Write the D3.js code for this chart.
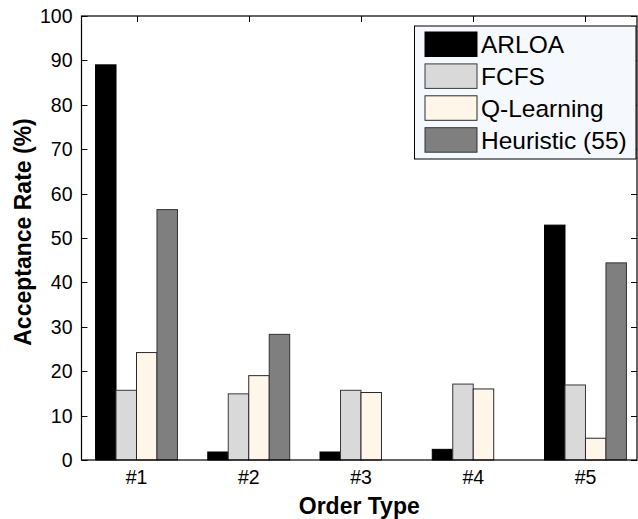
<!DOCTYPE html>
<html>
<head>
<meta charset="utf-8">
<script src="https://cdn.jsdelivr.net/npm/d3@7"></script>
<style>
  html, body { margin: 0; padding: 0; background: #fff; }
  svg { display: block; font-family: Arial, "Liberation Sans", Helvetica, sans-serif; }
</style>
</head>
<body>
<svg id="chart" width="638" height="519"></svg>
<script>
// Order types on the x axis
const categories = ["#1", "#2", "#3", "#4", "#5"];

// Acceptance rate (%) per scheduling method
const arloa     = [89.0, 1.8, 1.8, 2.4, 52.9];
const fcfs      = [15.7, 14.9, 15.7, 17.1, 16.9];
const qLearning = [24.2, 19.0, 15.2, 16.0, 4.9];
const heuristic = [56.4, 28.3, 0.0, 0.0, 44.4];

const seriesNames = ["ARLOA", "FCFS", "Q-Learning", "Heuristic (55)"];
const seriesFill = ["#000000", "#d9d9d9", "#fff6ea", "#7f7f7f"];
const seriesEdge = ["#000000", "#3a3a3a", "#2a2a2a", "#333333"];

const yTicks = [0, 10, 20, 30, 40, 50, 60, 70, 80, 90, 100];

const allSeries = [arloa, fcfs, qLearning, heuristic];

const svg = d3.select("#chart");
const plotL = 81.5, plotR = 637, plotT = 16, plotB = 460;

const x = d3.scaleLinear().domain([0.51, 5.459]).range([plotL, plotR]);
const y = d3.scaleLinear().domain([0, 100]).range([plotB, plotT]);
const groupWidth = 0.73;
const barW = groupWidth / allSeries.length;

// plot background
svg.append("rect")
  .attr("x", plotL).attr("y", plotT)
  .attr("width", plotR - plotL).attr("height", plotB - plotT)
  .attr("fill", "#fff");

// inward ticks on all four sides
const tickLen = 6;
const tickG = svg.append("g").attr("stroke", "#000").attr("stroke-width", 1);
yTicks.forEach(t => {
  const yy = Math.round(y(t)) + 0.5;
  tickG.append("line").attr("x1", plotL).attr("x2", plotL + tickLen).attr("y1", yy).attr("y2", yy);
  tickG.append("line").attr("x1", plotR).attr("x2", plotR - tickLen).attr("y1", yy).attr("y2", yy);
});
categories.forEach((c, i) => {
  const xx = Math.round(x(i + 1)) + 0.5;
  tickG.append("line").attr("x1", xx).attr("x2", xx).attr("y1", plotT).attr("y2", plotT + tickLen);
  tickG.append("line").attr("x1", xx).attr("x2", xx).attr("y1", plotB).attr("y2", plotB - tickLen);
});

// grouped bars
allSeries.forEach((vals, s) => {
  const off = s - allSeries.length / 2;
  svg.append("g")
    .selectAll("rect")
    .data(vals)
    .join("rect")
    .attr("x", (d, i) => x(i + 1 + off * barW))
    .attr("width", (d, i) => x(i + 1 + (off + 1) * barW) - x(i + 1 + off * barW))
    .attr("y", d => y(d))
    .attr("height", d => y(0) - y(d))
    .attr("fill", seriesFill[s])
    .attr("stroke", seriesEdge[s])
    .attr("stroke-width", 1);
});

// axes box
svg.append("rect")
  .attr("x", plotL).attr("y", plotT)
  .attr("width", plotR - plotL).attr("height", plotB - plotT)
  .attr("fill", "none").attr("stroke", "#000").attr("stroke-width", 1.2);

// y tick labels
svg.append("g").selectAll("text")
  .data(yTicks)
  .join("text")
  .attr("x", plotL - 9)
  .attr("y", d => y(d))
  .attr("dy", "0.36em")
  .attr("text-anchor", "end")
  .attr("font-size", 19.5)
  .attr("fill", "#000")
  .text(d => d);

// x tick labels
svg.append("g").selectAll("text")
  .data(categories)
  .join("text")
  .attr("x", (d, i) => x(i + 1))
  .attr("y", 484)
  .attr("text-anchor", "middle")
  .attr("font-size", 19.5)
  .attr("fill", "#000")
  .text(d => d);

// axis titles
svg.append("text")
  .attr("x", (plotL + plotR) / 2)
  .attr("y", 514)
  .attr("text-anchor", "middle")
  .attr("font-size", 23)
  .attr("font-weight", "bold")
  .text("Order Type");

svg.append("text")
  .attr("transform", "translate(31,232) rotate(-90)")
  .attr("text-anchor", "middle")
  .attr("font-size", 23)
  .attr("font-weight", "bold")
  .text("Acceptance Rate (%)");

// legend
const lg = svg.append("g");
lg.append("rect")
  .attr("x", 414.5).attr("y", 26)
  .attr("width", 221.5).attr("height", 133)
  .attr("fill", "#f5f8fc").attr("stroke", "#000").attr("stroke-width", 1);
seriesNames.forEach((name, s) => {
  const yy = 32 + s * 31.9;
  lg.append("rect")
    .attr("x", 425).attr("y", yy)
    .attr("width", 52).attr("height", 24.5)
    .attr("fill", seriesFill[s]).attr("stroke", seriesEdge[s]).attr("stroke-width", 1);
  lg.append("text")
    .attr("x", 481)
    .attr("y", yy + 12.25)
    .attr("dy", "0.36em")
    .attr("font-size", 24.5)
    .attr("fill", "#000")
    .text(name);
});
</script>
</body>
</html>
